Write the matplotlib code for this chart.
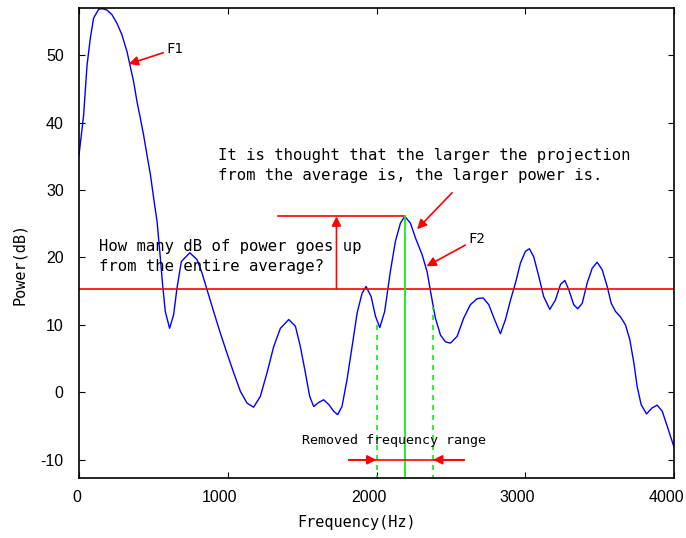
import matplotlib
matplotlib.use('Agg')
import matplotlib.pyplot as plt
from matplotlib.transforms import ScaledTranslation

plt.rcParams['axes.unicode_minus'] = False

# spectrum (Hz, dB)
freq = [0, 31, 54, 76, 98, 132, 155, 188, 222, 256, 289, 323, 345, 367, 390, 412,
        434, 457, 480, 502, 525, 547, 562, 580, 609, 636, 659, 688, 745, 793, 827,
        861, 905, 950, 995, 1040, 1085, 1130, 1174, 1219, 1264, 1309, 1354, 1410,
        1455, 1488, 1522, 1551, 1578, 1611, 1645, 1679, 1712, 1739, 1768, 1802,
        1836, 1870, 1903, 1930, 1964, 1993, 2022, 2055, 2093, 2127, 2161, 2190,
        2228, 2262, 2307, 2340, 2367, 2396, 2430, 2463, 2497, 2542, 2586, 2631,
        2677, 2717, 2755, 2790, 2833, 2867, 2901, 2934, 2968, 3001, 3028, 3057,
        3091, 3124, 3165, 3203, 3237, 3266, 3293, 3326, 3353, 3383, 3416, 3450,
        3483, 3517, 3551, 3578, 3607, 3640, 3674, 3703, 3730, 3752, 3779, 3815,
        3853, 3887, 3921, 3954, 3988, 4000]
power = [35.2, 41.1, 48.5, 52.5, 55.5, 56.8, 56.9, 56.7, 56.0, 54.7, 53.0, 50.5,
         48.3, 46.1, 43.1, 40.7, 38.2, 35.2, 32.3, 28.8, 25.3, 19.9, 16.0, 12.0,
         9.5, 11.5, 15.5, 19.4, 20.7, 19.7, 17.7, 15.2, 12.0, 8.8, 5.8, 2.9, 0.15,
         -1.6, -2.2, -0.6, 2.9, 6.8, 9.5, 10.8, 9.8, 6.8, 2.9, -0.6, -2.1, -1.5,
         -1.1, -1.8, -2.8, -3.3, -2.1, 1.9, 6.8, 11.8, 14.7, 15.7, 14.2, 11.3, 9.6,
         12.0, 17.9, 22.4, 25.1, 26.1, 25.1, 22.9, 20.4, 17.9, 14.5, 11.0, 8.5,
         7.5, 7.3, 8.3, 11.0, 13.0, 13.9, 14.0, 13.0, 11.0, 8.7, 10.8, 13.7, 16.2,
         19.2, 20.9, 21.3, 20.1, 17.2, 14.2, 12.3, 13.7, 16.0, 16.6, 15.2, 13.0,
         12.4, 13.2, 16.2, 18.4, 19.3, 18.2, 15.7, 13.2, 12.0, 11.2, 10.0, 7.8,
         4.4, 0.9, -1.8, -3.2, -2.3, -1.9, -2.8, -5.0, -7.3, -8.1]

avg_power = 15.3
peak_freq = 2190
peak_power = 26.1
band_lo, band_hi = 2000, 2380
band_lo_pow, band_hi_pow = 10.3, 12.7

xticks = [0, 1000, 2000, 3000, 4000]
xtick_labels = ['0', '1000', '2000', '3000', '4000']
yticks = [-10, 0, 10, 20, 30, 40, 50]
ytick_labels = ['-10', '0', '10', '20', '30', '40', '50']

mono = 'DejaVu Sans Mono'

fig = plt.figure(figsize=(6.86, 5.38), dpi=100)
ax = fig.add_axes([79/686, 60/538, 595/686, 470/538])

ax.plot(freq, power, color='blue', lw=1.0)
ax.axhline(avg_power, color='red', lw=1.2)
ax.plot([1340, peak_freq], [peak_power, peak_power], color='red', lw=1.2)

arr = dict(arrowstyle='-|>', color='red', lw=1.2, mutation_scale=14, shrinkA=0, shrinkB=0)
ax.annotate('', xy=(1731, peak_power), xytext=(1731, avg_power), arrowprops=arr)

green = '#11ee11'
ax.plot([peak_freq, peak_freq], [-13, peak_power], color=green, lw=1.3)
ax.plot([band_lo, band_lo], [-13, band_lo_pow], color=green, lw=1.2, ls=(0, (3, 3)))
ax.plot([band_hi, band_hi], [-13, band_hi_pow], color=green, lw=1.2, ls=(0, (3, 3)))

# removed range arrows
ax.plot([1813, 2591], [-10, -10], color='red', lw=1.2)
ax.annotate('', xy=(band_lo, -10), xytext=(1813, -10), arrowprops=arr)
ax.annotate('', xy=(band_hi, -10), xytext=(2591, -10), arrowprops=arr)
ax.text(2121, -7.2, 'Removed frequency range', family=mono, fontsize=9.6, ha='center', va='center')

ax.annotate('F1', xy=(334, 48.7), xytext=(585, 50.9), family=mono, fontsize=10,
            va='center', ha='left', arrowprops=arr)
ax.annotate('F2', xy=(2336, 18.7), xytext=(2616, 21.7), family=mono, fontsize=10,
            va='bottom', ha='left', arrowprops=arr)
ax.annotate('', xy=(2273, 24.2), xytext=(2508, 29.6), arrowprops=arr)

ax.text(937, 33.6, 'It is thought that the larger the projection\nfrom the average is, the larger power is.',
        family=mono, fontsize=11.25, ha='left', va='center', linespacing=1.4)
ax.text(137, 20.1, 'How many dB of power goes up\nfrom the entire average?',
        family=mono, fontsize=11.25, ha='left', va='center', linespacing=1.4)

ax.set_xlim(0, 4000)
ax.set_ylim(-12.7, 57)
ax.set_xticks(xticks, xtick_labels)
ax.set_yticks(yticks, ytick_labels)
ax.tick_params(direction='in', length=4.5, width=0.8, top=True, right=True)
ax.tick_params(axis='x', pad=9)
ax.tick_params(axis='y', pad=11)
for lab in ax.get_xticklabels() + ax.get_yticklabels():
    lab.set_family('Liberation Sans')
    lab.set_fontsize(11.5)
# x labels sit a little left of their ticks in the original
for lab in ax.get_xticklabels():
    shift = ScaledTranslation(-0.02 * len(lab.get_text()), 0, fig.dpi_scale_trans)
    lab.set_transform(lab.get_transform() + shift)
for s in ax.spines.values():
    s.set_linewidth(1.2)

ax.set_xlabel('Frequency(Hz)', family=mono, fontsize=11, va='center')
ax.set_ylabel('Power(dB)', family=mono, fontsize=11, va='center')
ax.xaxis.set_label_coords(278/595, -45/470)
ax.yaxis.set_label_coords(-59/595, 214/470)

fig.savefig('out.png', dpi=100)
